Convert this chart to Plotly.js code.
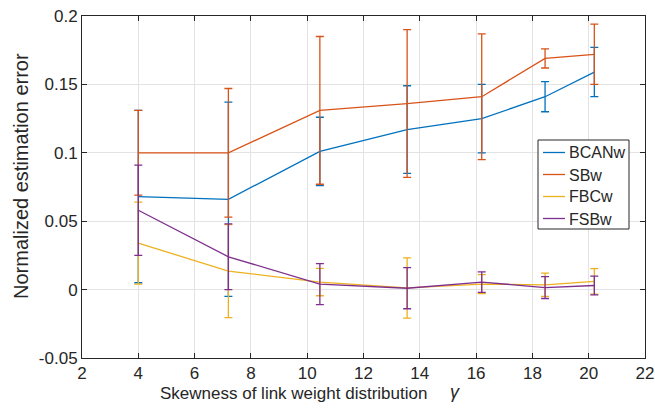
<!DOCTYPE html>
<html>
<head>
<meta charset="utf-8">
<script src="https://cdn.plot.ly/plotly-3.0.1.min.js"></script>
<style>
  html, body { margin: 0; padding: 0; background: #fff; }
  #chart { width: 655px; height: 412px; }
</style>
</head>
<body>
<div id="chart"></div>
<script>
// Skewness values of the link weight distribution
const gamma = [4, 7.2, 10.45, 13.55, 16.2, 18.45, 20.2];

// Mean normalized estimation error and its spread per method
const bcanwMean = [0.068, 0.066, 0.101, 0.117, 0.125, 0.141, 0.159];
const bcanwErr  = [0.063, 0.071, 0.025, 0.032, 0.025, 0.011, 0.018];

const sbwMean = [0.100, 0.100, 0.131, 0.136, 0.141, 0.169, 0.172];
const sbwErr  = [0.031, 0.047, 0.054, 0.054, 0.046, 0.007, 0.022];

const fbcwMean = [0.034, 0.0135, 0.0055, 0.0012, 0.004, 0.0035, 0.006];
const fbcwErr  = [0.030, 0.034, 0.010, 0.022, 0.007, 0.0085, 0.0093];

const fsbwMean = [0.058, 0.024, 0.004, 0.001, 0.0055, 0.0015, 0.003];
const fsbwErr  = [0.033, 0.024, 0.015, 0.015, 0.0075, 0.008, 0.0068];

const seriesNames = ['BCANw', 'SBw', 'FBCw', 'FSBw'];
const seriesColors = ['#0072BD', '#D95319', '#EDB120', '#7E2F8E'];

const xTicks = [2, 4, 6, 8, 10, 12, 14, 16, 18, 20, 22];
const yTicks = [-0.05, 0, 0.05, 0.1, 0.15, 0.2];
const yTickText = ['-0.05', '0', '0.05', '0.1', '0.15', '0.2'];

const means = [bcanwMean, sbwMean, fbcwMean, fsbwMean];
const errs = [bcanwErr, sbwErr, fbcwErr, fsbwErr];

const traces = means.map((m, i) => ({
  type: 'scatter',
  mode: 'lines',
  name: seriesNames[i],
  x: gamma,
  y: m,
  line: { color: seriesColors[i], width: 1.3 },
  error_y: {
    type: 'data',
    array: errs[i],
    symmetric: true,
    color: seriesColors[i],
    thickness: 1.3,
    width: 4
  }
}));

const axisColor = '#262626';
const font = { family: 'Arial, "Liberation Sans", sans-serif', color: axisColor };

// plot area in pixels
const M = { l: 82, r: 10, t: 16, b: 54 };
const plotW = 655 - M.l - M.r, plotH = 412 - M.t - M.b;
const px2x = px => (px - M.l) / plotW;
const py2y = py => (412 - M.b - py) / plotH;

const axisCommon = {
  ticks: 'inside',
  ticklen: 5,
  tickcolor: axisColor,
  showline: true,
  linecolor: axisColor,
  linewidth: 1,
  mirror: 'ticks',
  showgrid: true,
  gridcolor: '#e3e3e3',
  zeroline: false,
  tickfont: Object.assign({ size: 17 }, font)
};

// boxed key in the upper right, one row per method
const key = { left: 538, right: 629, top: 140, bottom: 229, row0: 152.5, rowStep: 22 };
const shapes = [{
  type: 'rect', xref: 'paper', yref: 'paper',
  x0: px2x(key.left), x1: px2x(key.right), y0: py2y(key.top), y1: py2y(key.bottom),
  fillcolor: '#ffffff', line: { color: axisColor, width: 1 }, layer: 'above'
}];
const keyLabels = [];
seriesNames.forEach((name, i) => {
  const yRow = key.row0 + i * key.rowStep;
  shapes.push({
    type: 'line', xref: 'paper', yref: 'paper',
    x0: px2x(543), x1: px2x(565), y0: py2y(yRow), y1: py2y(yRow),
    line: { color: seriesColors[i], width: 1.3 }, layer: 'above'
  });
  keyLabels.push({
    text: name, xref: 'paper', yref: 'paper',
    x: px2x(567), y: py2y(yRow + 0.5),
    xanchor: 'left', yanchor: 'middle', showarrow: false,
    font: Object.assign({ size: 16 }, font)
  });
});

const layout = {
  width: 655,
  height: 412,
  margin: Object.assign({ pad: 0 }, M),
  paper_bgcolor: '#ffffff',
  plot_bgcolor: '#ffffff',
  font: Object.assign({ size: 16 }, font),
  showlegend: false,
  xaxis: Object.assign({
    range: [2, 22],
    tickvals: xTicks,
    ticktext: xTicks.map(String)
  }, axisCommon),
  yaxis: Object.assign({
    range: [-0.05, 0.2],
    tickvals: yTicks,
    ticktext: yTickText
  }, axisCommon),
  shapes: shapes,
  annotations: [
    {
      text: 'Skewness of link weight distribution',
      xref: 'paper', yref: 'paper',
      x: px2x(158), y: py2y(393),
      xanchor: 'left', yanchor: 'middle',
      showarrow: false,
      font: Object.assign({ size: 17 }, font)
    },
    {
      text: '<i>γ</i>',
      xref: 'paper', yref: 'paper',
      x: px2x(455), y: py2y(392),
      xanchor: 'center', yanchor: 'middle',
      showarrow: false,
      font: Object.assign({ size: 18 }, font)
    },
    {
      text: 'Normalized estimation error',
      xref: 'paper', yref: 'paper',
      x: px2x(21), y: py2y(176),
      xanchor: 'center', yanchor: 'middle',
      textangle: -90,
      showarrow: false,
      font: Object.assign({ size: 20 }, font)
    }
  ].concat(keyLabels)
};

Plotly.newPlot('chart', traces, layout, { displayModeBar: false, staticPlot: true });
</script>
</body>
</html>
